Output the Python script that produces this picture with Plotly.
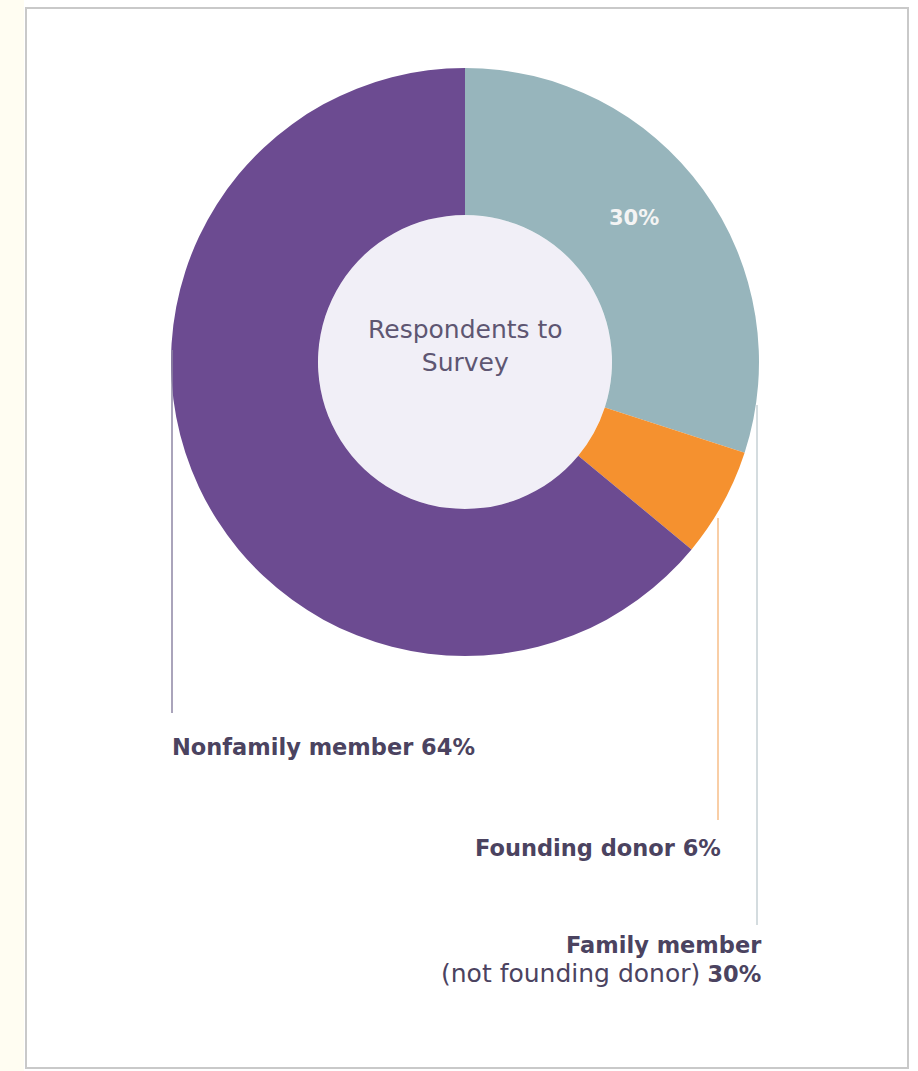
import plotly.graph_objects as go

# ---- data ----
categories = ["Family member (not founding donor)", "Founding donor", "Nonfamily member"]
values = [30, 6, 64]
slice_text = ["30%", "", ""]
colors = ["#97B5BC", "#F5912F", "#6C4B91"]

W, H = 918, 1071
CX, CY, R_OUT, R_IN = 465, 362, 294, 147


def px(x):
    return x / W


def py(y):
    return 1 - y / H


fig = go.Figure()

# inner filled disc (centre of the donut)
fig.add_trace(go.Pie(
    values=[1], labels=["centre"], marker=dict(colors=["#F1EFF7"], line=dict(width=0)),
    textinfo="none", hoverinfo="skip", sort=False, showlegend=False,
    domain=dict(x=[px(CX - R_IN), px(CX + R_IN)], y=[py(CY + R_IN), py(CY - R_IN)]),
))

fig.add_trace(go.Pie(
    values=values, labels=categories, textinfo="none",
    marker=dict(colors=colors, line=dict(width=0)),
    hole=R_IN / R_OUT, sort=False, direction="clockwise", rotation=0,
    hoverinfo="label+percent", showlegend=False,
    domain=dict(x=[px(CX - R_OUT), px(CX + R_OUT)], y=[py(CY + R_OUT), py(CY - R_OUT)]),
))

shapes = [
    # cream strip on the left
    dict(type="rect", xref="paper", yref="paper", x0=0, x1=px(24), y0=0, y1=1,
         fillcolor="#FFFDF2", line=dict(width=0), layer="below"),
    # card frame
    dict(type="rect", xref="paper", yref="paper", x0=px(26), x1=px(908), y0=py(1068), y1=py(8),
         fillcolor="white", line=dict(color="#C9C9C9", width=2), layer="below"),
    # leader lines
    dict(type="line", xref="paper", yref="paper", x0=px(172), x1=px(172), y0=py(350), y1=py(713),
         line=dict(color="#8E86A4", width=1.5)),
    dict(type="line", xref="paper", yref="paper", x0=px(718), x1=px(718), y0=py(518), y1=py(820),
         line=dict(color="#F7BE88", width=1.5)),
    dict(type="line", xref="paper", yref="paper", x0=px(757), x1=px(757), y0=py(405), y1=py(925),
         line=dict(color="#C6D0D4", width=1.5)),
]

TXT = "#4B4360"
FONT = "DejaVu Sans"
annotations = [
    dict(text="<b>" + slice_text[0] + "</b>", x=px(634), y=py(218), xref="paper", yref="paper",
         xanchor="center", yanchor="middle", showarrow=False,
         font=dict(size=21, color="#F4F4F4", family=FONT)),
    dict(text="Respondents to<br>Survey", x=px(CX), y=py(346), xref="paper", yref="paper",
         xanchor="center", yanchor="middle", showarrow=False,
         font=dict(size=25, color="#5E5672", family=FONT), align="center"),
    dict(text="<b>Nonfamily member 64%</b>", x=px(170), y=py(747), xref="paper", yref="paper",
         xanchor="left", yanchor="middle", showarrow=False,
         font=dict(size=22.5, color=TXT, family=FONT)),
    dict(text="<b>Founding donor 6%</b>", x=px(723), y=py(848), xref="paper", yref="paper",
         xanchor="right", yanchor="middle", showarrow=False,
         font=dict(size=22.5, color=TXT, family=FONT)),
    dict(text="<b>Family member</b><br><span style=\"font-size:25px\">(not founding donor)</span> <b>30%</b>",
         x=px(764), y=py(960), align="right",
         xref="paper", yref="paper", xanchor="right", yanchor="middle",
         showarrow=False, font=dict(size=22.5, color=TXT, family=FONT)),
]

fig.update_layout(
    width=W, height=H, margin=dict(l=0, r=0, t=0, b=0),
    paper_bgcolor="white", plot_bgcolor="white",
    shapes=shapes, annotations=annotations,
)

fig.write_html("out.html")
